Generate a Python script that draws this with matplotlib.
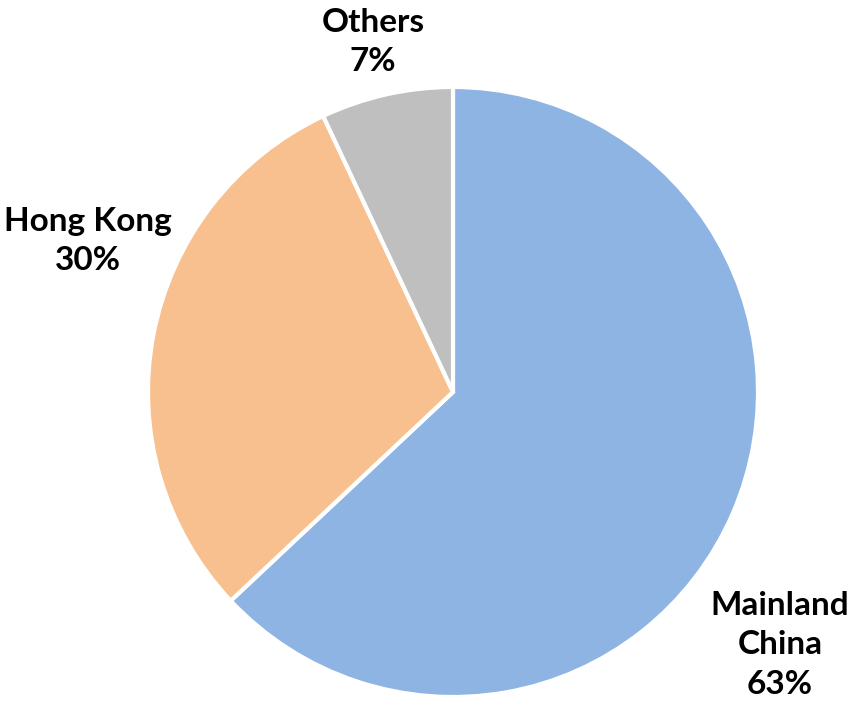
import matplotlib
matplotlib.use("Agg")
import matplotlib.pyplot as plt

# Share of total by region
regions = ["Mainland China", "Hong Kong", "Others"]
shares = [63, 30, 7]
label_lines = ["Mainland\nChina", "Hong Kong", "Others"]
colors = ["#8EB4E3", "#F9C08F", "#BFBFBF"]

W, H = 855, 707
fig = plt.figure(figsize=(W / 100, H / 100), dpi=100)
ax = fig.add_axes([0, 0, 1, 1])

cx, cy, r = 453, H - 392, 305
ax.pie(shares, colors=colors, startangle=90, counterclock=False,
       center=(cx, cy), radius=r, frame=True,
       wedgeprops=dict(edgecolor="white", linewidth=3))
ax.set_xlim(0, W)
ax.set_ylim(0, H)
ax.set_aspect("equal")
ax.axis("off")

label_pos = [(780, H - 645), (88, H - 241), (373, H - 42)]
for name, val, (x, y) in zip(label_lines, shares, label_pos):
    ax.text(x, y, f"{name}\n{val}%", ha="center", va="center",
            fontsize=24, fontweight="bold", family="Lato",
            linespacing=1.45, color="black")

fig.savefig("out.png", dpi=100)
